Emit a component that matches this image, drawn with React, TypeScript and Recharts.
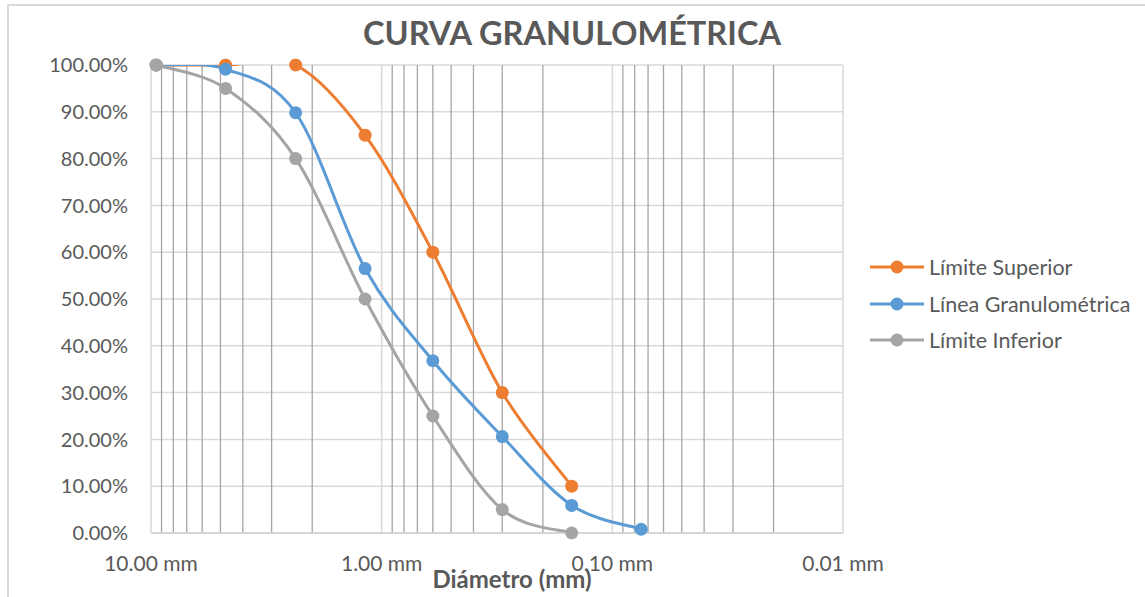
import { CartesianGrid, Legend, Line, LineChart, ReferenceLine, XAxis, YAxis } from "recharts";

const FONT = "Lato, 'Open Sans', sans-serif";
const TEXT = "#595959";

// abertura de tamices (mm)
const sieves = [9.5, 4.75, 2.36, 1.18, 0.6, 0.3, 0.15, 0.075];

// % que pasa
const upperLimit = [100, 100, 100, 85, 60, 30, 10];
const gradation = [100, 99.1, 89.8, 56.5, 36.8, 20.6, 5.9, 0.8];
const lowerLimit = [100, 95, 80, 50, 25, 5, 0];

const xTicks = [10, 1, 0.1, 0.01];
const yTicks = [0, 10, 20, 30, 40, 50, 60, 70, 80, 90, 100];
const minorSteps = [9, 8, 7, 6, 5, 4, 3, 2];

const series = [
    { name: "Límite Superior", color: "#ED7D31", values: upperLimit },
    { name: "Línea Granulométrica", color: "#5B9BD5", values: gradation },
    { name: "Límite Inferior", color: "#A5A5A5", values: lowerLimit },
];

const minorLines = [1, 0.1, 0.01].flatMap((d) => minorSteps.map((m) => +(m * d).toPrecision(3)));

const toPoints = (values: number[]) => values.map((v, i) => ({ d: sieves[i], v }));

// smoothed line like the spreadsheet one (catmull-rom style bezier), can overshoot and gets clipped
function smoothCurve(context: any) {
    let xs: number[] = [];
    let ys: number[] = [];
    return {
        areaStart() {},
        areaEnd() {},
        lineStart() { xs = []; ys = []; },
        point(x: number, y: number) { xs.push(+x); ys.push(+y); },
        lineEnd() {
            const n = xs.length;
            if (!n) return;
            context.moveTo(xs[0], ys[0]);
            for (let i = 0; i < n - 1; i++) {
                const a = Math.max(i - 1, 0);
                const b = Math.min(i + 2, n - 1);
                const c1x = xs[i] + (xs[i + 1] - xs[a]) / 6;
                const c1y = ys[i] + (ys[i + 1] - ys[a]) / 6;
                const c2x = xs[i + 1] - (xs[b] - xs[i]) / 6;
                const c2y = ys[i + 1] - (ys[b] - ys[i]) / 6;
                context.bezierCurveTo(c1x, c1y, c2x, c2y, xs[i + 1], ys[i + 1]);
            }
        },
    };
}

function LegendBox() {
    return <div style={{ fontFamily: FONT }}>
        {series.map((s) => (
            <div key={s.name} style={{ display: "flex", alignItems: "center", height: 36.5 }}>
                <svg width={54} height={14}>
                    <line x1={0} y1={7} x2={54} y2={7} stroke={s.color} strokeWidth={3} />
                    <circle cx={27} cy={7} r={6.5} fill={s.color} />
                </svg>
                <span style={{ marginLeft: 5, fontSize: 21.5, color: TEXT, whiteSpace: "nowrap" }}>{s.name}</span>
            </div>
        ))}
    </div>;
}

export default function App() {
    return <div style={{ position: "fixed", left: 0, top: 0, width: 1145, height: 597, background: "#fff", overflow: "hidden" }}>
        <div style={{ position: "absolute", left: 7, top: 4, width: 1200, height: 700, borderLeft: "2px solid #d9d9d9", borderTop: "2px solid #d9d9d9" }} />
        <div style={{ position: "absolute", left: 0, top: 0 }}>
            <LineChart width={1145} height={597} margin={{ top: 65, right: 302, bottom: 0, left: 0 }}>
                <CartesianGrid vertical={false} stroke="#d9d9d9" strokeWidth={1.5} />
                {minorLines.map((x) => (
                    <ReferenceLine key={x} x={x} stroke="#a6a6a6" strokeWidth={1.3} />
                ))}
                {xTicks.map((x) => (
                    <ReferenceLine key={"M" + x} x={x} stroke="#d9d9d9" strokeWidth={1.5} />
                ))}
                <XAxis
                    dataKey="d"
                    type="number"
                    scale="log"
                    domain={[0.01, 10]}
                    reversed
                    allowDataOverflow
                    ticks={xTicks}
                    height={64}
                    tickSize={0}
                    tickMargin={23}
                    axisLine={{ stroke: "#d0d0d0", strokeWidth: 1.5 }}
                    tick={{ fill: TEXT, fontSize: 21, fontFamily: FONT }}
                    tickFormatter={(v: number) => `${v.toFixed(2)} mm`}
                    label={{ value: "Diámetro (mm)", position: "insideBottom", offset: 9, dx: 15, fill: TEXT, fontSize: 24, fontWeight: 700, fontFamily: FONT }}
                />
                <YAxis
                    type="number"
                    domain={[0, 100]}
                    allowDataOverflow
                    ticks={yTicks}
                    width={151}
                    tickSize={0}
                    tickMargin={23}
                    axisLine={false}
                    tick={{ fill: TEXT, fontSize: 20, fontFamily: FONT }}
                    tickFormatter={(v: number) => `${v.toFixed(2)}%`}
                />
                <Legend
                    layout="horizontal"
                    verticalAlign="middle"
                    align="center"
                    content={() => <LegendBox />}
                    wrapperStyle={{ left: 870, top: 249, width: 275 }}
                />
                {series.map((s) => (
                    <Line
                        key={s.name}
                        name={s.name}
                        data={toPoints(s.values)}
                        dataKey="v"
                        type={smoothCurve as any}
                        stroke={s.color}
                        strokeWidth={3}
                        dot={{ r: 6.5, fill: s.color, stroke: s.color, strokeWidth: 0, clipDot: false }}
                        activeDot={false}
                        isAnimationActive={false}
                    />
                ))}
                <text x={572} y={45} textAnchor="middle" fill={TEXT} fontSize={32.5} fontWeight={700} fontFamily={FONT}>
                    CURVA GRANULOMÉTRICA
                </text>
            </LineChart>
        </div>
    </div>;
}
